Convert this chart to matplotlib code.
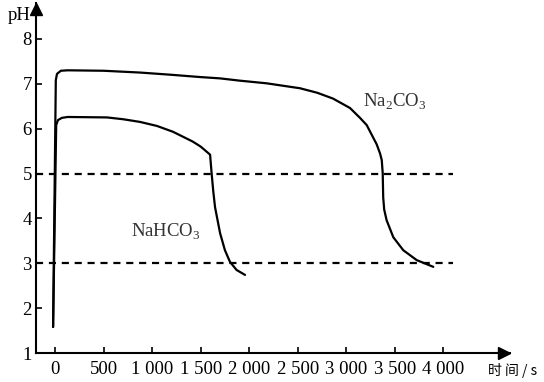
import matplotlib
matplotlib.use("Agg")
import matplotlib.pyplot as plt

plt.rcParams['font.family'] = ['Liberation Serif', 'Noto Sans CJK SC', 'DejaVu Sans']
plt.rcParams['mathtext.fontset'] = 'custom'
plt.rcParams['mathtext.rm'] = 'Liberation Serif'

# time (s) and pH
na2co3_t = [-20, 8, 20, 60, 130, 500, 875, 1200, 1493, 1700, 1900, 2180, 2523, 2700,
            2863, 3038, 3141, 3210, 3277, 3313, 3347, 3365, 3375, 3380, 3390, 3415,
            3484, 3587, 3725, 3896]
na2co3_ph = [1.58, 7.08, 7.22, 7.29, 7.30, 7.29, 7.25, 7.20, 7.15, 7.12, 7.07, 7.01,
             6.90, 6.80, 6.67, 6.46, 6.24, 6.08, 5.80, 5.65, 5.45, 5.30, 5.01, 4.47,
             4.20, 3.96, 3.58, 3.29, 3.07, 2.92]
nahco3_t = [-20, 12, 30, 70, 130, 535, 700, 875, 1050, 1215, 1420, 1500, 1565, 1597,
            1613, 1630, 1648, 1700, 1750, 1802, 1870, 1957]
nahco3_ph = [1.58, 6.08, 6.19, 6.24, 6.26, 6.25, 6.21, 6.15, 6.06, 5.93, 5.71, 5.60,
             5.48, 5.42, 5.00, 4.60, 4.25, 3.67, 3.29, 3.03, 2.85, 2.74]

ref_levels = [5, 3]
xticks = [0, 500, 1000, 1500, 2000, 2500, 3000, 3500, 4000]
xtick_labels = ['0', '500', '1 000', '1 500', '2 000', '2 500', '3 000', '3 500', '4 000']
yticks = [1, 2, 3, 4, 5, 6, 7, 8]

fig = plt.figure(figsize=(5.44, 3.82), dpi=100)
ax = fig.add_axes([36 / 544, 1 - 353 / 382, (510 - 36) / 544, (353 - 3) / 382])

ax.plot(na2co3_t, na2co3_ph, color='black', lw=1.6, solid_capstyle='round',
        solid_joinstyle='round')
ax.plot(nahco3_t, nahco3_ph, color='black', lw=1.6, solid_capstyle='round',
        solid_joinstyle='round')
for lv in ref_levels:
    ax.plot([-196, 4100], [lv, lv], color='black', lw=1.6, linestyle=(0, (3.2, 2.6)))

ax.text(1140, 3.69, r'NaHCO$_3$', fontsize=13.5, ha='center', va='center',
        color='#333333')
ax.text(3500, 6.59, r'Na$_2$CO$_3$', fontsize=13.5, ha='center', va='center',
        color='#333333')

ax.set_xlim(-196, 4686)
ax.set_ylim(1, 8.8)
ax.spines['top'].set_visible(False)
ax.spines['right'].set_visible(False)
ax.spines['left'].set_linewidth(1.5)
ax.spines['bottom'].set_linewidth(1.5)
ax.set_xticks(xticks)
ax.set_xticklabels(xtick_labels)
ax.set_yticks(yticks)
ax.tick_params(direction='in', length=4, width=1.2, labelsize=13.5)
ax.tick_params(axis='y', pad=3)
ax.tick_params(axis='x', pad=6)

# axis arrows
ax.plot(1 - 6 / 474, 0, marker='>', markersize=9, color='black',
        transform=ax.transAxes, clip_on=False)
ax.plot(0, 1 - 6 / 350, marker='^', markersize=9, color='black',
        transform=ax.transAxes, clip_on=False)

fig.text(19 / 544, 1 - 15 / 382, 'pH', fontsize=13.5, ha='center', va='center')
fig.text(513 / 544, 1 - 370 / 382, '时 间 / s', fontsize=10,
         family=['Noto Sans CJK SC', 'DejaVu Sans'], ha='center', va='center')

fig.savefig('out.png', dpi=100)
